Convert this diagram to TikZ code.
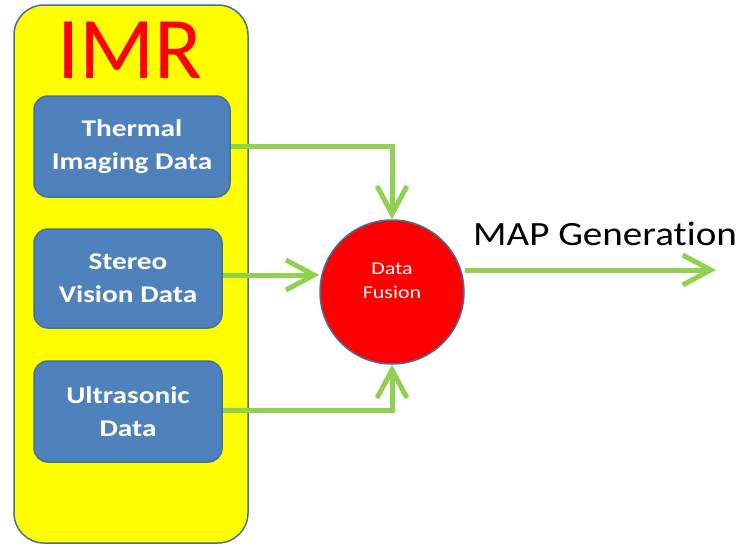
\documentclass[tikz,border=0pt]{standalone}
\usepackage{fontspec}
\setmainfont{Carlito}
\newfontfamily\boxfont[FakeStretch=1.22]{Carlito}
\newfontfamily\labelfont[FakeStretch=1.15,Ligatures=NoCommon]{Carlito}
\usetikzlibrary{arrows.meta}
\definecolor{panelyellow}{HTML}{FFFF00}
\definecolor{edgeblue}{HTML}{41719C}
\definecolor{boxblue}{HTML}{4F81BD}
\definecolor{flowgreen}{HTML}{92D050}
\tikzset{
  panel/.style={draw=edgeblue, line width=1.5pt, fill=panelyellow, rounded corners=30pt},
  source/.style={draw=edgeblue, line width=1.5pt, fill=boxblue, rounded corners=14pt,
    text=white, font=\boxfont\bfseries\fontsize{24}{33}\selectfont, align=center,
    inner sep=0pt},
  fusion/.style={circle, draw=edgeblue, line width=1.5pt, fill=red,
    minimum size=144pt, inner sep=0pt},
  flow/.style={draw=flowgreen, line width=5pt,
    -{Straight Barb[length=28pt,width=30pt,line join=miter]}},
}
\begin{document}
\begin{tikzpicture}[x=1pt,y=-1pt]
\useasboundingbox (0,0) rectangle (744,546);
% outer IMR panel
\path[panel] (14,5) rectangle (248,543);
\node[text=red, font=\fontsize{88}{88}\selectfont, anchor=base] (imr) at (130,78) {IMR};
% sensor boxes
\node[source, minimum width=196pt, minimum height=101pt] (thermal) at (132,146.5) {Thermal\\Imaging Data};
\node[source, minimum width=188pt, minimum height=99pt] (stereo) at (128,278.5) {Stereo\\Vision Data};
\node[source, minimum width=188pt, minimum height=101pt] (ultra) at (128,411.5) {Ultrasonic\\Data};
% fusion node and its label
\node[fusion] (fuse) at (392,292) {};
\node[text=white, align=center, inner sep=0pt,
  font=\boxfont\fontsize{18}{24}\selectfont] (fuselabel) at (392,281) {Data\\Fusion};
\coordinate (out) at (716,270);
% connectors
\draw[flow] (thermal.east |- 0,146) -| (fuse.north);
\draw[flow] (stereo.east |- 0,275) -- (fuse.west |- 0,275);
\draw[flow] (ultra.east |- 0,410) -| (fuse.south);
\draw[flow] (fuse.east |- out) -- (out);
\node[anchor=base west, font=\labelfont\fontsize{34}{34}\selectfont, inner sep=0pt] (maplabel) at (473,245) {MAP Generation};
\end{tikzpicture}
\end{document}
